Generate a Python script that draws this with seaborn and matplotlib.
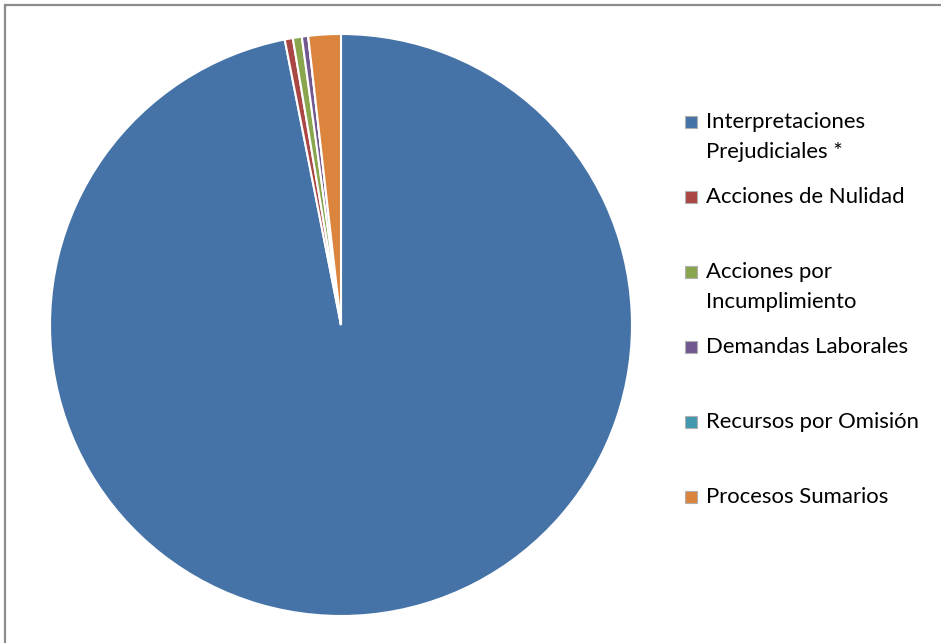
import matplotlib
matplotlib.use("Agg")
import matplotlib.pyplot as plt
import matplotlib.patches as mpatches
import seaborn as sns

# Case types and their share of the total (%)
categories = [
    "Interpretaciones\nPrejudiciales *",
    "Acciones de Nulidad",
    "Acciones por\nIncumplimiento",
    "Demandas Laborales",
    "Recursos por Omisión",
    "Procesos Sumarios",
]
values = [96.9, 0.45, 0.5, 0.35, 0.0, 1.8]
colors = ["#4572A7", "#AA4643", "#89A54E", "#71588F", "#4198AF", "#DB843D"]

sns.set_theme(style="white")
plt.rcParams["font.family"] = ["Lato", "DejaVu Sans"]

W, H = 941, 643
fig = plt.figure(figsize=(W / 100, H / 100), dpi=100)
fig.patch.set_facecolor("white")

# outer chart frame
fig.patches.append(mpatches.Rectangle((5 / W, -0.1), 1.2, (H - 5) / H + 0.1,
                                      transform=fig.transFigure, fill=False,
                                      edgecolor="#8c8c8c", lw=1.6))

# pie area
cx, cy, r = 341, 325, 291
ax = fig.add_axes([(cx - r) / W, (H - cy - r) / H, 2 * r / W, 2 * r / H])
ax.pie(values, colors=colors, startangle=90, counterclock=False,
       wedgeprops=dict(edgecolor="white", linewidth=1.5))
ax.set_xlim(-1, 1)
ax.set_ylim(-1, 1)
ax.set_aspect("equal")
ax.axis("off")

# legend: one marker per entry, first text line aligned with the marker
leg_x, leg_y0, step = 685, 122, 75
for i, (lab, col) in enumerate(zip(categories, colors)):
    ym = leg_y0 + i * step
    fig.patches.append(mpatches.Rectangle((leg_x / W, (H - ym - 6) / H), 12 / W, 12 / H,
                                          transform=fig.transFigure, facecolor=col,
                                          edgecolor="#b0b0b0", lw=0.8))
    lines = lab.split("\n")
    for j, line in enumerate(lines):
        fig.text(706 / W, (H - ym - 30 * j) / H, line, fontsize=15.9,
                 color="black", va="center", ha="left")

fig.savefig("out.png", dpi=100)
